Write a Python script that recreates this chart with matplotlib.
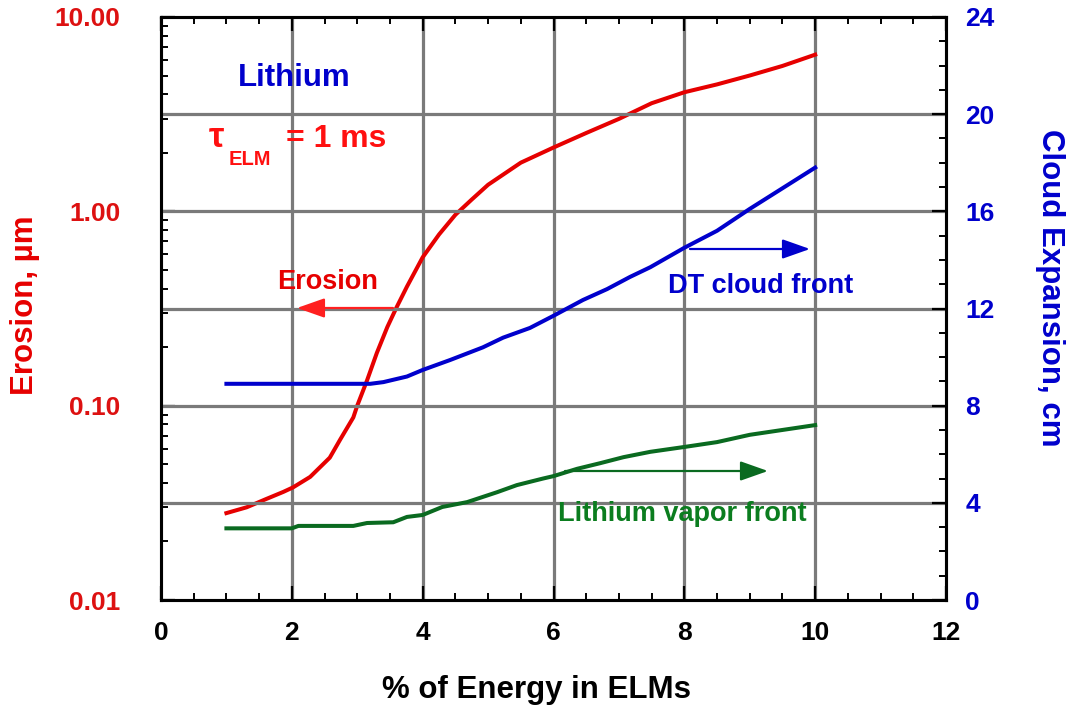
import matplotlib
matplotlib.use("Agg")
import matplotlib.pyplot as plt
from matplotlib.ticker import MultipleLocator, FixedLocator, NullFormatter, LogLocator
import numpy as np

plt.rcParams['font.family'] = ['Liberation Sans', 'DejaVu Sans']
plt.rcParams['font.weight'] = 'bold'

# ---- data ----
erosion_x = [1.0, 1.31, 1.6, 1.87, 2.02, 2.28, 2.58, 2.74, 2.94, 3.0, 3.15, 3.3, 3.46, 3.6, 3.76,
             4.0, 4.25, 4.5, 4.75, 5.0, 5.5, 6.0, 6.5, 7.0, 7.5, 8.0, 8.5, 9.0, 9.5, 10.0]
erosion_y = [0.028, 0.030, 0.033, 0.036, 0.038, 0.043, 0.054, 0.067, 0.087, 0.10, 0.135, 0.187, 0.254,
             0.32, 0.41, 0.58, 0.76, 0.96, 1.15, 1.37, 1.78, 2.13, 2.53, 2.99, 3.6, 4.1, 4.5, 5.0, 5.6, 6.4]

dt_x = [1.0, 2.0, 3.0, 3.2, 3.4, 3.76, 4.0, 4.42, 4.92, 5.23, 5.64, 6.0, 6.45, 6.82, 7.17, 7.48,
        8.0, 8.5, 9.0, 9.5, 10.0]
dt_y = [8.9, 8.9, 8.9, 8.9, 8.97, 9.2, 9.47, 9.88, 10.4, 10.8, 11.2, 11.7, 12.35, 12.8, 13.3, 13.7,
        14.5, 15.2, 16.1, 16.95, 17.8]

li_x = [1.0, 2.0, 2.1, 2.94, 3.15, 3.55, 3.76, 4.0, 4.3, 4.68, 5.14, 5.44, 5.84, 6.0, 6.36, 6.71,
        7.07, 7.48, 8.0, 8.5, 9.0, 9.5, 10.0]
li_y = [2.95, 2.95, 3.05, 3.05, 3.17, 3.2, 3.42, 3.5, 3.83, 4.03, 4.44, 4.73, 5.0, 5.1, 5.4, 5.63,
        5.88, 6.1, 6.3, 6.5, 6.8, 7.0, 7.2]

x_ticks = [0, 2, 4, 6, 8, 10, 12]
left_ticks = [0.01, 0.1, 1.0, 10.0]
left_labels = ['0.01', '0.10', '1.00', '10.00']
right_ticks = [0, 4, 8, 12, 16, 20, 24]

RED = '#e60000'
RED_T = '#dd1111'
BLUE = '#0000cc'
GREEN_L = '#0a6a20'
GREEN_T = '#0b7d1f'
GRID = '#7a7a7a'

fig = plt.figure(figsize=(10.70, 7.09), dpi=100)
ax = fig.add_axes([161/1070, 1-600/709, (946-161)/1070, (600-17)/709])
ax2 = ax.twinx()

ax.set_xlim(0, 12)
ax.set_yscale('log')
ax.set_ylim(0.01, 10)
ax2.set_ylim(0, 24)

# grid
for xv in x_ticks[1:-1]:
    ax.axvline(xv, color=GRID, lw=2.3, zorder=0.5)
for yv in right_ticks[1:-1]:
    ax2.axhline(yv, color=GRID, lw=2.3, zorder=0.5)

ax.plot(erosion_x, erosion_y, color=RED, lw=2.9, zorder=3)
ax2.plot(dt_x, dt_y, color=BLUE, lw=2.9, zorder=3)
ax2.plot(li_x, li_y, color=GREEN_L, lw=2.9, zorder=3)

TICK_FS = 19

# x axis
ax.xaxis.set_major_locator(FixedLocator(x_ticks))
ax.xaxis.set_minor_locator(MultipleLocator(0.5))
ax.set_xticklabels([str(v) for v in x_ticks])
ax.tick_params(axis='x', which='major', direction='in', length=10, width=1.6, top=True,
               pad=15, labelsize=TICK_FS, labelcolor='black')
ax.tick_params(axis='x', which='minor', direction='in', length=5, width=1.4, top=True)

# left axis
ax.yaxis.set_major_locator(FixedLocator(left_ticks))
ax.set_yticklabels(left_labels)
ax.yaxis.set_minor_locator(LogLocator(base=10, subs=np.arange(2, 10)))
ax.yaxis.set_minor_formatter(NullFormatter())
ax.tick_params(axis='y', which='major', direction='in', length=10, width=1.6, pad=29,
               labelsize=TICK_FS, labelcolor=RED_T)
ax.tick_params(axis='y', which='minor', direction='in', length=5, width=1.4)

# right axis
ax2.yaxis.set_major_locator(FixedLocator(right_ticks))
ax2.yaxis.set_minor_locator(MultipleLocator(1))
ax2.tick_params(axis='y', which='major', direction='in', length=10, width=1.6, pad=14,
                labelsize=TICK_FS, labelcolor=BLUE)
ax2.tick_params(axis='y', which='minor', direction='in', length=5, width=1.4)

for a in (ax, ax2):
    for s in a.spines.values():
        s.set_linewidth(2.2)
        s.set_color('black')

for lab in ax.get_xticklabels() + ax.get_yticklabels() + ax2.get_yticklabels():
    lab.set_fontweight('bold')

# axis labels
fig.text(537/1070, 1-690/709, '% of Energy in ELMs', ha='center', va='center',
         fontsize=22.5, fontweight='bold', color='black')
fig.text(25/1070, 1-305/709, 'Erosion, µm', ha='center', va='center', rotation=90,
         fontsize=22.5, fontweight='bold', color=RED)
fig.text(1050/1070, 1-288/709, 'Cloud Expansion, cm', ha='center', va='center', rotation=-90,
         fontsize=22.5, fontweight='bold', color=BLUE)

# annotations (in ax2 data coords)
def px2x(px):
    return (px - 161) / 65.42

def py2y(py):
    return (600 - py) / (583 / 24)

ax2.text(px2x(238), py2y(86), 'Lithium', ha='left', va='baseline', fontsize=22.5,
         fontweight='bold', color=BLUE)
ax2.text(px2x(209), py2y(147), 'τ', ha='left', va='baseline', fontsize=25,
         fontweight='bold', color='#ff1010')
ax2.text(px2x(229), py2y(165), 'ELM', ha='left', va='baseline', fontsize=14.5,
         fontweight='bold', color='#ff1010')
ax2.text(px2x(286), py2y(147), '= 1 ms', ha='left', va='baseline', fontsize=23,
         fontweight='bold', color='#ff1010')

ARROW = '-|>,head_length=0.85,head_width=0.3'

ax2.text(px2x(277), py2y(289), 'Erosion', ha='left', va='baseline', fontsize=19.5,
         fontweight='bold', color=RED)
ax2.annotate('', xy=(px2x(297), py2y(308)), xytext=(px2x(393), py2y(308)),
             arrowprops=dict(arrowstyle=ARROW, mutation_scale=20, color='#ff2020',
                             lw=1.6, shrinkA=0, shrinkB=0))

ax2.text(px2x(668), py2y(293), 'DT cloud front', ha='left', va='baseline', fontsize=19.5,
         fontweight='bold', color=BLUE)
ax2.annotate('', xy=(px2x(810), py2y(249)), xytext=(px2x(690), py2y(249)),
             arrowprops=dict(arrowstyle=ARROW, mutation_scale=20, color=BLUE,
                             lw=1.6, shrinkA=0, shrinkB=0))

ax2.text(px2x(558), py2y(521), 'Lithium vapor front', ha='left', va='baseline', fontsize=19.5,
         fontweight='bold', color=GREEN_T)
ax2.annotate('', xy=(px2x(768), py2y(471)), xytext=(px2x(565), py2y(471)),
             arrowprops=dict(arrowstyle=ARROW, mutation_scale=20, color=GREEN_L,
                             lw=1.6, shrinkA=0, shrinkB=0))

fig.savefig('out.png', dpi=100)
